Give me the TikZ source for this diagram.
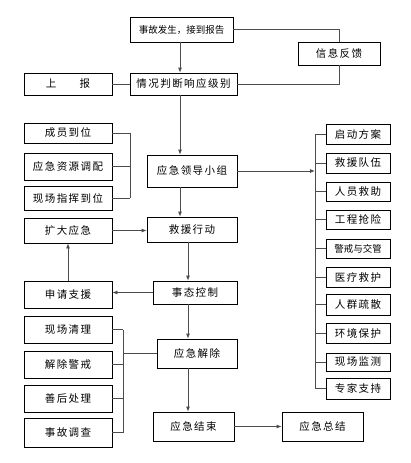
\documentclass[tikz,border=0pt]{standalone}
\usepackage{fontspec}
\setmainfont{Noto Sans CJK SC}[LetterSpace=14]
\newfontfamily\tightfont{Noto Sans CJK SC}
\usetikzlibrary{arrows.meta, positioning, calc}

\begin{document}
\begin{tikzpicture}[
    x=1pt, y=-1pt,
    box/.style={rectangle, draw=black, line width=0.8pt, fill=white,
                inner sep=0pt, font=\fontsize{10.5}{12}\selectfont},
    lbox/.style={box, minimum width=88pt, minimum height=#1},
    rbox/.style={box, minimum width=64pt, minimum height=#1},
    line/.style={line width=0.8pt, black!70},
    arrow/.style={line, -{Latex[length=5pt, width=4pt]}}
  ]
    \useasboundingbox (0,0) rectangle (411,463);

    % main column
    \node[box, minimum width=103pt, minimum height=25pt, font=\tightfont\fontsize{9.5}{11}\selectfont] (start) at (181.5,29.5) {事故发生，接到报告};
    \node[box, minimum width=107pt, minimum height=22pt] (judge) at (183.5,84) {情况判断响应级别};
    \node[box, minimum width=90pt, minimum height=32pt] (lead) at (192,171) {应急领导小组};
    \node[box, minimum width=90pt, minimum height=25pt] (rescue) at (192,229.5) {救援行动};
    \node[box, minimum width=84pt, minimum height=23pt] (control) at (195,292.5) {事态控制};
    \node[box, minimum width=80pt, minimum height=29pt] (release) at (197,353.5) {应急解除};
    \node[box, minimum width=81pt, minimum height=29pt] (finish) at (193.5,426.5) {应急结束};
    \node[box, minimum width=81pt, minimum height=29pt] (summary) at (322.5,426.5) {应急总结};
    \node[box, minimum width=82pt, minimum height=23pt] (feedback) at (339,53.5) {信息反馈};

    % left side
    \node[lbox=22pt] (report) at (68,84) {上\hspace{2.2em}报};
    \node[lbox=20pt] (staff) at (68,133) {成员到位};
    \node[lbox=27pt] (supply) at (68,166.5) {应急资源调配};
    \node[lbox=24pt] (command) at (68,198) {现场指挥到位};
    \node[lbox=25pt] (expand) at (68,230.5) {扩大应急};
    \node[lbox=27pt] (apply) at (68,294.5) {申请支援};
    \node[lbox=27pt] (clean) at (68,329.5) {现场清理};
    \node[lbox=27pt] (lift) at (68,364.5) {解除警戒};
    \node[lbox=27pt] (after) at (68,398.5) {善后处理};
    \node[lbox=29pt] (probe) at (68,432.5) {事故调查};

    % right side
    \node[rbox=20pt] (r1) at (358,134) {启动方案};
    \node[rbox=20pt] (r2) at (358,163) {救援队伍};
    \node[rbox=19pt] (r3) at (358,191.5) {人员救助};
    \node[rbox=19pt] (r4) at (358,219.5) {工程抢险};
    \node[rbox=19pt, font=\tightfont\fontsize{9.5}{11}\selectfont] (r5) at (358,248.5) {警戒与交管};
    \node[rbox=20pt] (r6) at (358,277) {医疗救护};
    \node[rbox=21pt] (r7) at (358,304.5) {人群疏散};
    \node[rbox=20pt] (r8) at (358,333) {环境保护};
    \node[rbox=18pt] (r9) at (358,362) {现场监测};
    \node[rbox=21pt] (r10) at (358,388.5) {专家支持};

    \coordinate (col) at (180,0);
    \coordinate (col2) at (188,0);
    \coordinate (rbar) at (315,0);
    \coordinate (lbar) at (130,0);
    \coordinate (lbar2) at (123,0);

    % connectors
    \draw[line] (start.east) -| (feedback.north);
    \draw[line] (feedback.south) |- (judge.east);
    \draw[line] (judge.west) -- (report.east);
    \draw[arrow] (start.south -| col) -- (judge.north -| col);
    \draw[arrow] (judge.south -| col) -- (lead.north -| col);
    \draw[arrow] (lead.south -| col) -- (rescue.north -| col);
    \draw[arrow] (rescue.south -| col2) -- (control.north -| col2);
    \draw[arrow] (control.south -| col2) -- (release.north -| col2);
    \draw[arrow] (release.south -| col2) -- (finish.north -| col2);
    \draw[arrow] (finish) -- (summary);
    \draw[arrow] (expand) -- (rescue.west |- expand);
    \draw[arrow] (control.west) -- (control.west -| apply.east);
    \draw[arrow] (apply) -- (expand);
    \draw[arrow] (lead.east) -- (lead.east -| rbar);

    \foreach \n in {r1,r2,r3,r4,r5,r6,r7,r8,r9,r10}
      \draw[line] (\n.west) -- (\n.west -| rbar);
    \draw[line] (r1.west -| rbar) -- (r10.west -| rbar);

    \foreach \n in {staff,supply,command}
      \draw[line] (\n.east) -- (\n.east -| lbar);
    \draw[line] (staff.east -| lbar) -- (command.east -| lbar);

    \foreach \n in {clean,lift,after,probe}
      \draw[line] (\n.east) -- (\n.east -| lbar2);
    \draw[line] (clean.east -| lbar2) -- (probe.east -| lbar2);
    \draw[line] (release.west) -- (release.west -| lbar2);
  \end{tikzpicture}
\end{document}
